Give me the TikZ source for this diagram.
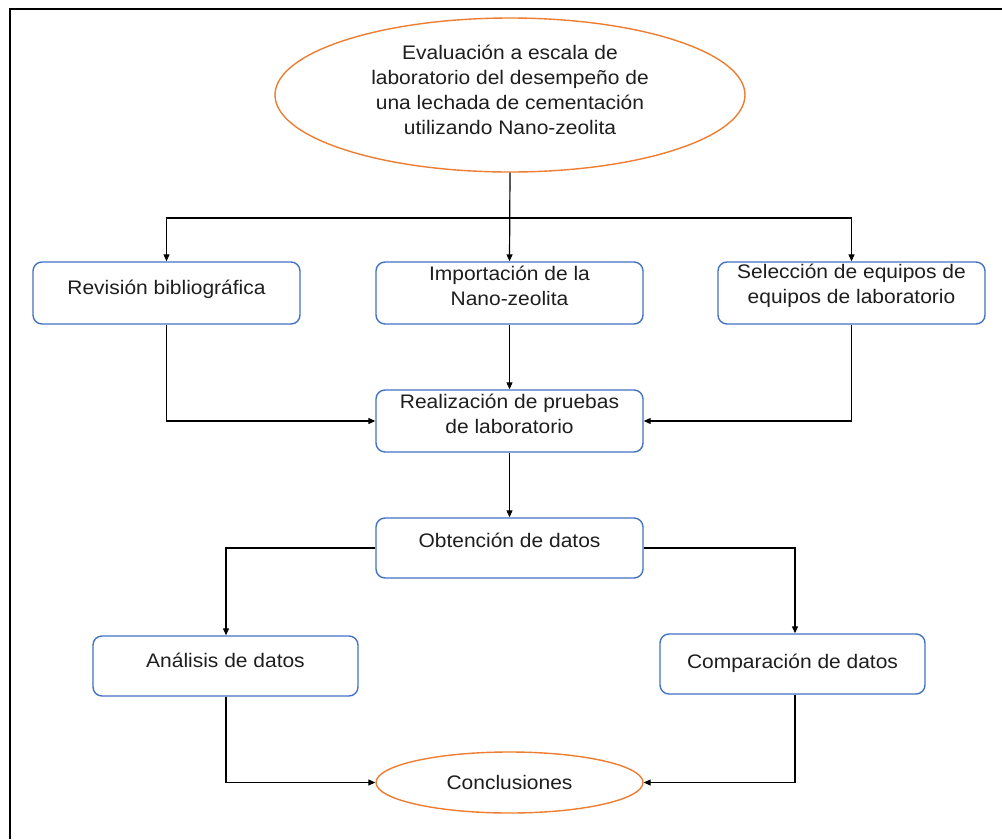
\documentclass[tikz,border=0pt]{standalone}
\usepackage{fontspec}
\setmainfont{Liberation Sans}[FakeStretch=1.07]
\usetikzlibrary{arrows.meta,shapes.geometric}
\definecolor{boxblue}{RGB}{68,114,196}
\definecolor{ellorange}{RGB}{237,125,49}
\definecolor{txt}{RGB}{30,30,30}
\begin{document}
\begin{tikzpicture}[x=1pt,y=-1pt,
  box/.style={draw=boxblue,line width=1.4pt,rounded corners=9pt,minimum width=267pt,minimum height=62pt,inner sep=0pt},
  oval/.style={draw=ellorange,line width=1.4pt,ellipse,inner sep=0pt},
  lbl/.style={align=center,text=txt,font=\fontsize{19.6}{24.8}\selectfont,inner sep=0pt},
  arr/.style={line width=1.2pt,-{Triangle[length=7pt,width=6pt]}},
  ln/.style={line width=1.2pt}]
\useasboundingbox (0,0) rectangle (1002,839);
\draw[line width=1.6pt] (10,839) -- (10,9) -- (1002,9);
% nodes
\node[oval,minimum width=470pt,minimum height=154pt] (top) at (510,95) {};
\node[lbl] (ttop) at (510,90) {Evaluación a escala de\\laboratorio del desempeño de\\una lechada de cementación\\utilizando Nano-zeolita};
\node[box] (b1) at (166.5,293) {};
\node[lbl] (t1) at (166.5,289) {Revisión bibliográfica};
\node[box] (b2) at (509.5,293) {};
\node[lbl] (t2) at (509.5,286) {Importación de la\\Nano-zeolita};
\node[box] (b3) at (851.5,293) {};
\node[lbl] (t3) at (851.5,286) {Selección de equipos de\\equipos de laboratorio};
\node[box] (b4) at (509.5,421) {};
\node[lbl] (t4) at (509.5,414) {Realización de pruebas\\de laboratorio};
\node[box,minimum height=60pt] (b5) at (509.5,548) {};
\node[lbl] (t5) at (509.5,540) {Obtención de datos};
\node[box,minimum width=265pt,minimum height=60pt] (b6) at (225.5,666) {};
\node[lbl] (t6) at (225.5,660) {Análisis de datos};
\node[box,minimum width=265pt,minimum height=60pt] (b7) at (792.5,664) {};
\node[lbl] (t7) at (792.5,663) {Comparación de datos};
\node[oval,minimum width=267pt,minimum height=61pt] (concl) at (509.5,782.5) {};
\node[lbl] (tc) at (509.5,782) {Conclusiones};
\coordinate (split) at (510,218);
\coordinate (c6) at (226,0);
\coordinate (c7) at (795,0);
% connectors
\draw[arr] (top.south) -- (b2.north);
\draw[arr] (split) -| (b1.north);
\draw[arr] (split) -| (b3.north);
\draw[arr] (b1.south) |- (b4.west);
\draw[arr] (b3.south) |- (b4.east);
\draw[arr] (b2.south) -- (b4.north);
\draw[arr] (b4.south) -- (b5.north);
\draw[arr] (b5.west) -| (c6 |- b6.north);
\draw[arr] (b5.east) -| (c7 |- b7.north);
\draw[arr] (c6 |- b6.south) |- (concl.west);
\draw[arr] (c7 |- b7.south) |- (concl.east);
\end{tikzpicture}
\end{document}
